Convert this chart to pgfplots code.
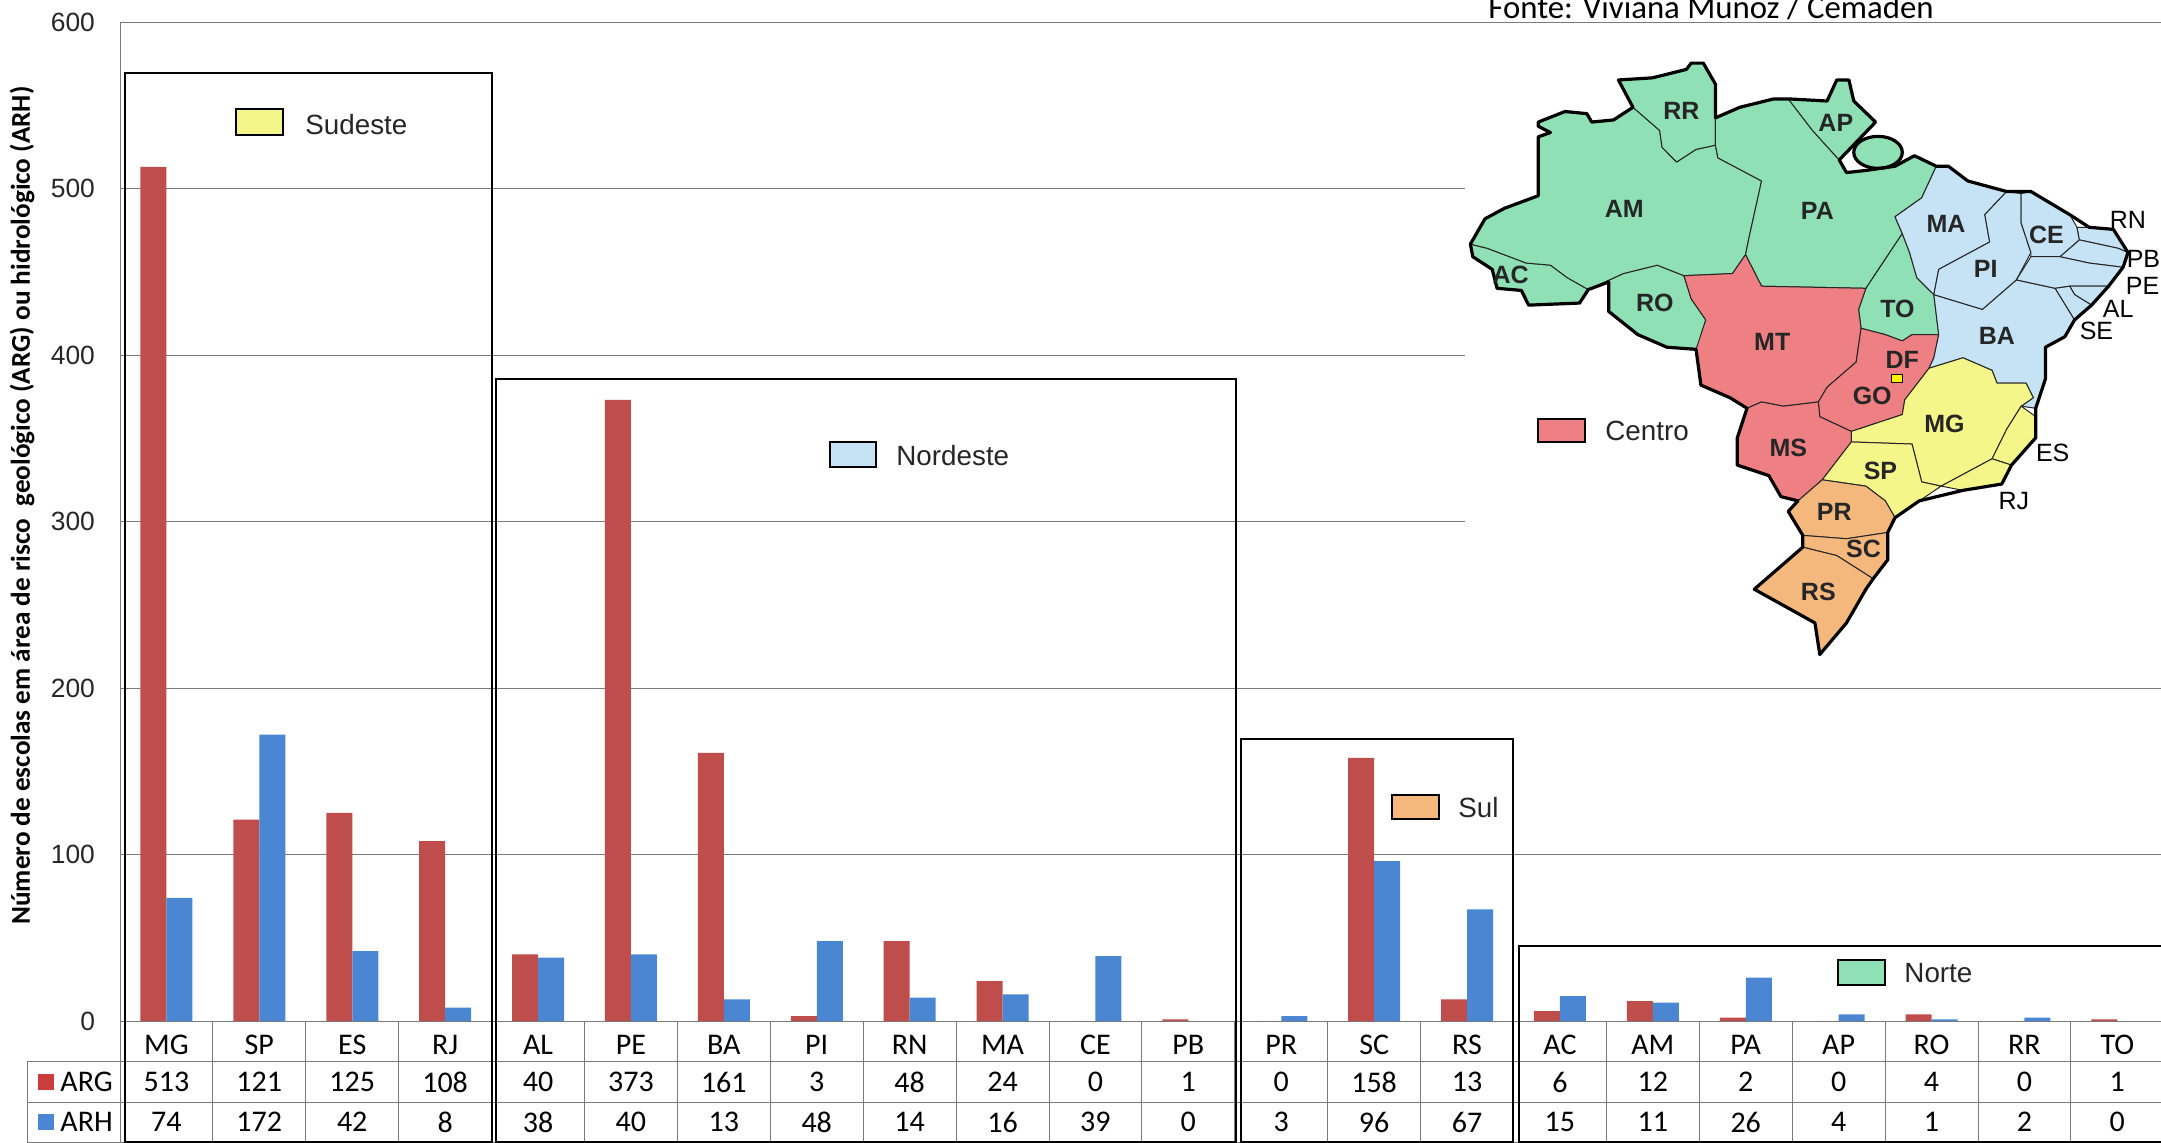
\documentclass[border=0pt]{standalone}
\usepackage{fontspec}
\setmainfont{Liberation Sans}
\newfontfamily\carl{Carlito}
\usepackage{pgfplots}
\usepackage{pgfplotstable}
\pgfplotsset{compat=1.18}
\definecolor{barred}{HTML}{BE4D4B}
\definecolor{barblue}{HTML}{4A86D2}
\definecolor{grn}{HTML}{8FE0B4}
\definecolor{blu}{HTML}{C6E3F5}
\definecolor{rd}{HTML}{EE7F82}
\definecolor{yel}{HTML}{F4F68A}
\definecolor{org}{HTML}{F5B87C}
\definecolor{gridg}{HTML}{7A7A7A}
\pgfplotstableread{
x ARG ARH
0 513 74
1 121 172
2 125 42
3 108 8
4 40 38
5 373 40
6 161 13
7 3 48
8 48 14
9 24 16
10 0 39
11 1 0
12 0 3
13 158 96
14 13 67
15 6 15
16 12 11
17 2 26
18 0 4
19 4 1
20 0 2
21 1 0
}\datatable
\begin{document}
\begin{tikzpicture}
\path[use as bounding box] (0,0) rectangle (1080.5pt,-571.5pt);
\begin{axis}[
  at={(60pt,-510.5pt)}, anchor=south west,
  scale only axis, width=1020.5pt, height=499.5pt,
  xmin=-0.5, xmax=21.47, ymin=0, ymax=600,
  ybar=0pt, bar width=13pt,
  clip=false,
  axis line style={gridg,line width=0.5pt},
  ymajorgrids, grid style={gridg,line width=0.5pt},
  ytick={0,100,...,600},
  xtick={0,...,21},
  xticklabels={MG,SP,ES,RJ,AL,PE,BA,PI,RN,MA,CE,PB,PR,SC,RS,AC,AM,PA,AP,RO,RR,TO},
  x tick label style={font=\fontsize{15}{15}\carl, yshift=-3.5pt, text=black},
  major tick length=0pt,
  /pgf/number format/assume math mode=true,
  y tick label style={font=\fontsize{13.2}{14}\selectfont, xshift=-9pt, text=black!85},
  ylabel={\bfseries Número de escolas em área de risco\ \ geológico (ARG) ou hidrológico (ARH)},
  ylabel style={font=\fontsize{13.6}{14}\carl, at={(axis description cs:-0.048,0.516)}, anchor=center},
]
\addplot[fill=barred,draw=none] table[x=x,y=ARG] {\datatable};
\addplot[fill=barblue,draw=none] table[x=x,y=ARH] {\datatable};
\end{axis}
% pixel coordinates of the reference
\begin{scope}[x=0.5pt,y=-0.5pt]
  \fill[white] (1465,30) rectangle (2161,660);
  % data table
  \begin{scope}[draw=gridg,line width=0.5pt]
    \foreach \yy in {1061,1102,1142} \draw (27,\yy) -- (2161,\yy);
    \draw (120,1021) -- (120,1061);
    \draw (27,1061) -- (27,1142);
    \foreach \i in {0,...,21} \draw ({120+92.9*\i},1021) -- ({120+92.9*\i},1142);
  \end{scope}
  \foreach \i/\a/\b in {0/513/74,1/121/172,2/125/42,3/108/8,4/40/38,5/373/40,6/161/13,7/3/48,8/48/14,9/24/16,10/0/39,11/1/0,12/0/3,13/158/96,14/13/67,15/6/15,16/12/11,17/2/26,18/0/4,19/4/1,20/0/2,21/1/0} {
    \node[font=\fontsize{15}{15}\carl] at ({166.4+92.9*\i},1082) {\a};
    \node[font=\fontsize{15}{15}\carl] at ({166.4+92.9*\i},1122) {\b};
  }
  \fill[barred!80!red] (38,1074) rectangle (54,1090);
  \fill[barblue] (38,1114) rectangle (54,1130);
  \node[font=\fontsize{15}{15}\carl,anchor=west,inner sep=0pt] at (60,1082) {ARG};
  \node[font=\fontsize{15}{15}\carl,anchor=west,inner sep=0pt] at (60,1122) {ARH};
  % group boxes
  \begin{scope}[draw=black,line width=0.8pt]
    \draw (125,1143) -- (125,73) -- (492,73) -- (492,1143);
    \draw (496,1143) -- (496,379) -- (1236,379) -- (1236,1143);
    \draw (1241,1143) -- (1241,739) -- (1513,739) -- (1513,1143);
    \draw (1519,1143) -- (1519,946) -- (2161,946);
    \draw (125,1142) -- (492,1142) (496,1142) -- (1236,1142) (1241,1142) -- (1513,1142) (1519,1142) -- (2161,1142);
  \end{scope}
  % region legends
  \tikzset{sw/.style={draw=black,line width=0.7pt},lg/.style={font=\fontsize{13.9}{14}\selectfont,anchor=west,inner sep=0pt,text=black!85}}
  \filldraw[sw,fill=yel] (236,109) rectangle (283,135); \node[lg] at (305,125) {Sudeste};
  \filldraw[sw,fill=blu] (830,442) rectangle (876,467); \node[lg] at (896,456) {Nordeste};
  \filldraw[sw,fill=org] (1392,795) rectangle (1439,819); \node[lg] at (1458,808) {Sul};
  \filldraw[sw,fill=grn] (1838,960) rectangle (1885,985); \node[lg] at (1904,973) {Norte};
  \filldraw[sw,fill=rd] (1538,419) rectangle (1585,442); \node[lg] at (1605,431) {Centro};
  \node[font=\fontsize{16.4}{16}\carl,anchor=base west,inner sep=0pt] at (1488,19) {Fonte: Viviana Muñoz / Cemaden};
\end{scope}
% map
\begin{scope}[shift={(700pt,0pt)},x=0.24265pt,y=-0.21045pt,line join=round]
  \tikzset{st/.style={draw=black!85,line width=0.5pt}}
  \filldraw[st,fill=grn] (145,580)--(180,590)--(260,625)--(310,630)--(345,660)--(388,688)--(370,720)--(265,725)--(250,690)--(200,685)--(190,640)--(150,610)--cycle;
  \filldraw[st,fill=grn] (388,688)--(460,650)--(530,630)--(585,655)--(600,710)--(630,760)--(612,830)--(550,825)--(490,795)--(430,740)--(430,670)--cycle;
  \filldraw[st,fill=grn] (145,580)--(175,520)--(215,495)--(285,465)--(285,325)--(310,315)--(285,300)--(285,290)--(340,265)--(385,270)--(395,290)--(440,285)--(480,255)--(535,310)--(540,350)--(570,385)--(610,355)--(650,345)--(655,375)--(745,430)--(720,560)--(712,605)--(685,650)--(585,655)--(530,630)--(460,650)--(388,688)--(345,660)--(310,630)--(260,625)--(180,590)--cycle;
  \filldraw[st,fill=grn] (480,255)--(450,190)--(520,185)--(590,165)--(600,150)--(625,150)--(650,200)--(650,345)--(610,355)--(570,385)--(540,350)--(535,310)--cycle;
  \filldraw[st,fill=grn] (650,280)--(700,255)--(770,235)--(800,235)--(850,310)--(905,380)--(920,410)--(960,405)--(1020,395)--(1060,370)--(1105,395)--(1075,470)--(1020,515)--(1035,555)--(960,685)--(745,680)--(712,605)--(720,560)--(745,430)--(655,375)--(650,345)--cycle;
  \filldraw[st,fill=grn] (800,235)--(880,240)--(900,190)--(925,190)--(935,240)--(980,290)--(905,380)--(850,310)--cycle;
  \filldraw[st,fill=grn] (1035,555)--(1050,600)--(1065,660)--(1100,700)--(1110,795)--(1055,795)--(1035,810)--(1000,795)--(950,780)--(945,735)--(960,685)--cycle;
  \filldraw[draw=black,line width=1.6pt,fill=grn] (985,362) ellipse (50 and 38);
  \filldraw[st,fill=rd] (585,655)--(685,650)--(712,605)--(745,680)--(960,685)--(945,735)--(950,780)--(940,860)--(880,920)--(862,955)--(790,965)--(745,955)--(715,970)--(680,945)--(620,915)--(610,830)--(630,760)--(600,710)--cycle;
  \filldraw[st,fill=rd] (950,780)--(1000,795)--(1035,810)--(1055,795)--(1110,795)--(1100,850)--(1090,875)--(1040,950)--(1035,985)--(930,1025)--(865,990)--(862,955)--(880,920)--(940,860)--cycle;
  \filldraw[st,fill=rd] (715,970)--(745,955)--(790,965)--(862,955)--(865,990)--(930,1025)--(930,1050)--(870,1140)--(820,1190)--(785,1180)--(760,1130)--(695,1105)--(695,1040)--cycle;
  \filldraw[st,fill=blu] (1100,850)--(1110,795)--(1100,700)--(1200,735)--(1270,665)--(1350,685)--(1390,760)--(1370,800)--(1330,825)--(1330,900)--(1310,970)--(1280,965)--(1305,945)--(1290,910)--(1230,910)--(1220,880)--(1160,850)--(1090,875)--cycle;
  \filldraw[st,fill=blu] (1105,395)--(1130,395)--(1170,430)--(1250,455)--(1205,510)--(1215,575)--(1110,640)--(1100,700)--(1065,660)--(1050,600)--(1035,555)--(1020,515)--(1075,470)--cycle;
  \filldraw[st,fill=blu] (1250,455)--(1280,460)--(1280,530)--(1300,600)--(1270,665)--(1200,735)--(1100,700)--(1110,640)--(1215,575)--(1205,510)--cycle;
  \filldraw[st,fill=blu] (1280,460)--(1300,455)--(1380,510)--(1395,540)--(1400,570)--(1360,610)--(1300,610)--(1300,600)--(1280,530)--cycle;
  \filldraw[st,fill=blu] (1395,540)--(1420,540)--(1470,545)--(1500,600)--(1480,590)--(1400,570)--cycle;
  \filldraw[st,fill=blu] (1400,570)--(1480,590)--(1500,600)--(1490,635)--(1420,625)--(1360,610)--cycle;
  \filldraw[st,fill=blu] (1300,610)--(1360,610)--(1420,625)--(1490,635)--(1460,680)--(1380,680)--(1350,685)--(1270,665)--cycle;
  \filldraw[st,fill=blu] (1380,680)--(1460,680)--(1425,725)--(1390,700)--cycle;
  \filldraw[st,fill=blu] (1350,685)--(1380,680)--(1390,700)--(1425,725)--(1390,760)--cycle;
  \filldraw[st,fill=yel] (1035,985)--(1040,950)--(1090,875)--(1160,850)--(1220,880)--(1230,910)--(1290,910)--(1305,945)--(1280,965)--(1250,1020)--(1220,1090)--(1115,1155)--(1075,1145)--(1055,1055)--(930,1050)--(930,1025)--cycle;
  \filldraw[st,fill=yel] (1280,965)--(1310,990)--(1310,1040)--(1260,1105)--(1220,1090)--(1250,1020)--cycle;
  \filldraw[st,fill=yel] (1220,1090)--(1260,1105)--(1240,1150)--(1160,1165)--(1115,1155)--cycle;
  \filldraw[st,fill=yel] (930,1050)--(1055,1055)--(1075,1145)--(1115,1155)--(1070,1190)--(1020,1230)--(1000,1190)--(960,1155)--(870,1140)--cycle;
  \filldraw[st,fill=org] (870,1140)--(960,1155)--(1000,1190)--(1020,1230)--(1005,1265)--(920,1280)--(830,1272)--(800,1215)--(820,1190)--cycle;
  \filldraw[st,fill=org] (830,1272)--(920,1280)--(1005,1265)--(1005,1330)--(975,1375)--(900,1320)--(830,1300)--cycle;
  \filldraw[st,fill=org] (830,1300)--(900,1320)--(975,1375)--(960,1400)--(920,1480)--(865,1555)--(855,1480)--(730,1400)--cycle;
  % coast and frontier
  \draw[black,line width=1.6pt] (145,580)--(175,520)--(215,495)--(285,465)--(285,325)--(310,315)--(285,300)--(285,290)--(340,265)--(385,270)--(395,290)--(440,285)--(480,255)--(450,190)--(520,185)--(590,165)--(600,150)--(625,150)--(650,200)--(650,280)--(700,255)--(770,235)--(800,235)--(880,240)--(900,190)--(925,190)--(935,240)--(980,290)--(905,380)--(920,410)--(960,405)--(1020,395)--(1060,370)--(1105,395)--(1130,395)--(1170,430)--(1250,455)--(1300,455)--(1380,510)--(1420,540)--(1470,545)--(1500,600)--(1490,635)--(1460,680)--(1425,725)--(1390,760)--(1370,800)--(1330,825)--(1330,900)--(1310,970)--(1310,1040)--(1260,1105)--(1240,1150)--(1160,1165)--(1070,1190)--(1020,1230)--(1005,1265)--(1005,1330)--(975,1375)--(960,1400)--(920,1480)--(865,1555)--(855,1480)--(730,1400)--(830,1300)--(830,1272)--(800,1215)--(820,1190)--(785,1180)--(760,1130)--(695,1105)--(695,1040)--(715,970)--(680,945)--(620,915)--(610,830)--(550,825)--(490,795)--(430,740)--(430,670)--(388,688)--(370,720)--(265,725)--(250,690)--(200,685)--(190,640)--(150,610)--cycle;
  \filldraw[draw=black,line width=0.5pt,fill=yellow] (1013,890) rectangle (1035,908);
  \tikzset{ml/.style={font=\fontsize{12.5}{13}\bfseries\selectfont,text=black!85,inner sep=0pt},ol/.style={font=\fontsize{12.5}{13}\selectfont,text=black,inner sep=0pt}}
  \foreach \t/\px/\py in {RR/580/263,AP/898/293,AM/462/497,PA/860/500,MA/1125/533,PI/1207/640,CE/1332/558,AC/228/653,RO/525/720,TO/1025/735,MT/767/812,BA/1230/797,DF/1035/855,GO/973/940,MG/1122/1008,MS/800/1063,SP/990/1118,PR/895/1217,SC/955/1303,RS/862/1407}
    \node[ml] at (\px,\py) {\t};
  \foreach \t/\px/\py in {RN/1500/522,PB/1532/615,PE/1530/680,AL/1480/733,SE/1435/785,ES/1345/1077,RJ/1265/1190}
    \node[ol] at (\px,\py) {\t};
\end{scope}
\end{tikzpicture}
\end{document}
